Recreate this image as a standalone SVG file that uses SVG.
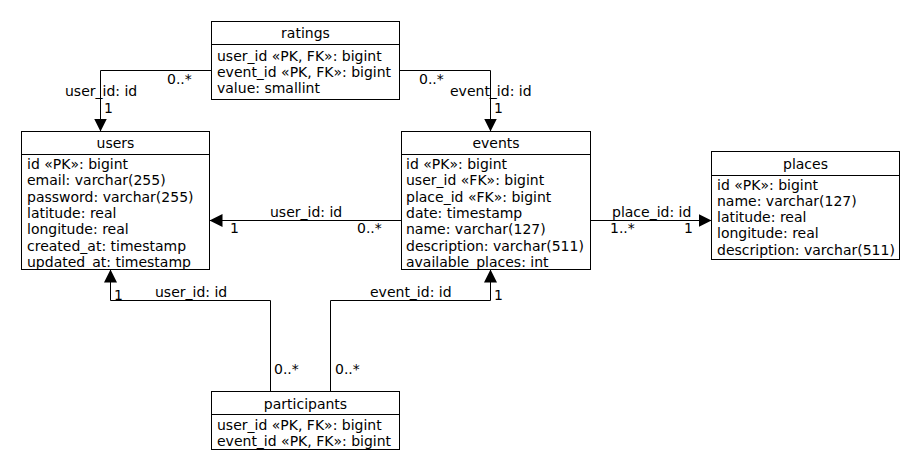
<svg xmlns="http://www.w3.org/2000/svg" width="920" height="470" viewBox="0 0 920 470">
<style>
text{font-family:"DejaVu Sans","Noto Sans",sans-serif;font-size:14px;fill:#000}
.t{text-anchor:middle}
rect{fill:#fff;stroke:#000;stroke-width:1}
.sep{stroke:#000;stroke-width:1}
.c{fill:none;stroke:#000;stroke-width:1;marker-end:url(#arr)}
</style>
<defs>
<marker id="arr" viewBox="0 0 13 13" refX="13" refY="6.5" markerWidth="13" markerHeight="13" markerUnits="userSpaceOnUse" orient="auto">
<path d="M0,0 L13,6.5 L0,13 z" fill="#000"/>
</marker>
</defs>
<rect x="0" y="0" width="920" height="470" style="stroke:none"/>
<g id="connectors">
<path class="c" d="M211.5,70.5 H100.5 V131.5"/>
<path class="c" d="M399.5,70.5 H490.5 V131.5"/>
<path class="c" d="M401.5,220.5 H209.5"/>
<path class="c" d="M590.5,220.5 H711.5"/>
<path class="c" d="M270.5,391.5 V300.5 H110.5 V269.5"/>
<path class="c" d="M330.5,391.5 V300.5 H490.5 V269.5"/>
<text x="167" y="84">0..*</text>
<text x="65" y="96">user_id: id</text>
<text x="104" y="113">1</text>
<text x="419" y="84">0..*</text>
<text x="450" y="96">event_id: id</text>
<text x="494" y="113">1</text>
<text x="270" y="217">user_id: id</text>
<text x="230" y="233">1</text>
<text x="357" y="233">0..*</text>
<text x="612" y="217">place_id: id</text>
<text x="610" y="233">1..*</text>
<text x="684" y="233">1</text>
<text x="114" y="300">1</text>
<text x="155" y="297">user_id: id</text>
<text x="274" y="374">0..*</text>
<text x="370" y="297">event_id: id</text>
<text x="494" y="300">1</text>
<text x="335" y="374">0..*</text>
</g>
<g id="ratings">
<rect x="211.5" y="21.5" width="188" height="78"/>
<line class="sep" x1="211.5" y1="44.5" x2="399.5" y2="44.5"/>
<text class="t" x="305.5" y="38">ratings</text>
<text x="217" y="61">user_id «PK, FK»: bigint</text>
<text x="217" y="77">event_id «PK, FK»: bigint</text>
<text x="217" y="93">value: smallint</text>
</g>
<g id="users">
<rect x="21.5" y="131.5" width="188" height="138"/>
<line class="sep" x1="21.5" y1="154.5" x2="209.5" y2="154.5"/>
<text class="t" x="115.5" y="148">users</text>
<text x="27" y="169">id «PK»: bigint</text>
<text x="27" y="185.3">email: varchar(255)</text>
<text x="27" y="201.6">password: varchar(255)</text>
<text x="27" y="217.9">latitude: real</text>
<text x="27" y="234.2">longitude: real</text>
<text x="27" y="250.5">created_at: timestamp</text>
<text x="27" y="266.8">updated_at: timestamp</text>
</g>
<g id="events">
<rect x="401.5" y="131.5" width="189" height="138"/>
<line class="sep" x1="401.5" y1="154.5" x2="590.5" y2="154.5"/>
<text class="t" x="496" y="148">events</text>
<text x="406" y="169">id «PK»: bigint</text>
<text x="406" y="185.3">user_id «FK»: bigint</text>
<text x="406" y="201.6">place_id «FK»: bigint</text>
<text x="406" y="217.9">date: timestamp</text>
<text x="406" y="234.2">name: varchar(127)</text>
<text x="406" y="250.5">description: varchar(511)</text>
<text x="406" y="266.8">available_places: int</text>
</g>
<g id="places">
<rect x="711.5" y="151.5" width="188" height="108"/>
<line class="sep" x1="711.5" y1="175.5" x2="899.5" y2="175.5"/>
<text class="t" x="805.5" y="168.5">places</text>
<text x="717" y="189.5">id «PK»: bigint</text>
<text x="717" y="205.8">name: varchar(127)</text>
<text x="717" y="222.1">latitude: real</text>
<text x="717" y="238.4">longitude: real</text>
<text x="717" y="254.7">description: varchar(511)</text>
</g>
<g id="participants">
<rect x="211.5" y="391.5" width="188" height="58"/>
<line class="sep" x1="211.5" y1="414.5" x2="399.5" y2="414.5"/>
<text class="t" x="305.5" y="409">participants</text>
<text x="217" y="430">user_id «PK, FK»: bigint</text>
<text x="217" y="446">event_id «PK, FK»: bigint</text>
</g>
</svg>
